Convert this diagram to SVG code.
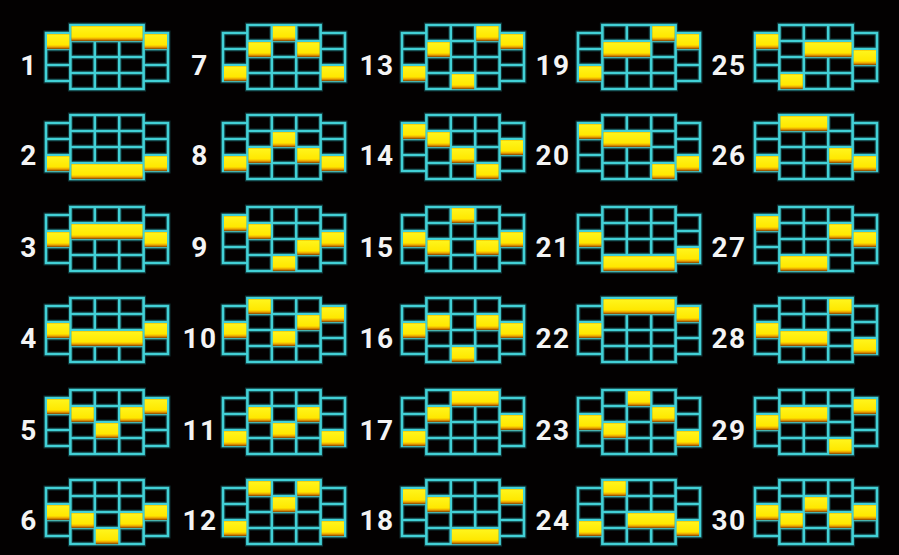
<svg xmlns="http://www.w3.org/2000/svg" xmlns:xlink="http://www.w3.org/1999/xlink" width="899" height="555" viewBox="0 0 899 555">
<style>
.lbl{font-family:Roboto,"Liberation Sans",sans-serif;font-weight:bold;font-size:28px;fill:#f4f4f4;text-anchor:middle;letter-spacing:1.5px}
.y{fill:url(#yg)}
.gl{fill:none;stroke:#42d0d6;stroke-width:2.6}
.gg{fill:none;stroke:#2aa8b0;stroke-width:5;opacity:0.3}
</style>
<defs>
<linearGradient id="yg" x1="0" y1="0" x2="0" y2="1">
<stop offset="0" stop-color="#f2c000"/>
<stop offset="0.08" stop-color="#fff41a"/>
<stop offset="0.72" stop-color="#ffe800"/>
<stop offset="0.86" stop-color="#eba000"/>
<stop offset="1" stop-color="#7a3800"/>
</linearGradient>
<path id="gp" d="M0,8H24.4V56H0Z M97.6,8H122V56H97.6Z M24.4,0H97.6V64H24.4Z M0,24H24.4 M0,40H24.4 M97.6,24H122 M97.6,40H122 M24.4,16H97.6 M24.4,32H97.6 M24.4,48H97.6 M48.8,0V64 M73.2,0V64"/>
<g id="grid"><use href="#gp" class="gg"/><use href="#gp" class="gl"/></g>
<rect id="s" class="y" width="22.4" height="15.2"/>
<rect id="d" class="y" width="46.8" height="15.2"/>
<rect id="t" class="y" width="71.2" height="15.2"/>
</defs>
<rect width="899" height="555" fill="#030101"/>

<g id="line-1" transform="translate(46,25)"><use href="#grid"/><use href="#s" x="1" y="9"/><use href="#t" x="25.4" y="1"/><use href="#s" x="98.6" y="9"/><text class="lbl" x="-17" y="50">1</text></g>
<g id="line-2" transform="translate(46,115)"><use href="#grid"/><use href="#s" x="1" y="41"/><use href="#t" x="25.4" y="49"/><use href="#s" x="98.6" y="41"/><text class="lbl" x="-17" y="50">2</text></g>
<g id="line-3" transform="translate(46,207)"><use href="#grid"/><use href="#s" x="1" y="25"/><use href="#t" x="25.4" y="17"/><use href="#s" x="98.6" y="25"/><text class="lbl" x="-17" y="50">3</text></g>
<g id="line-4" transform="translate(46,298)"><use href="#grid"/><use href="#s" x="1" y="25"/><use href="#t" x="25.4" y="33"/><use href="#s" x="98.6" y="25"/><text class="lbl" x="-17" y="50">4</text></g>
<g id="line-5" transform="translate(46,390)"><use href="#grid"/><use href="#s" x="1" y="9"/><use href="#s" x="25.4" y="17"/><use href="#s" x="49.8" y="33"/><use href="#s" x="74.2" y="17"/><use href="#s" x="98.6" y="9"/><text class="lbl" x="-17" y="50">5</text></g>
<g id="line-6" transform="translate(46,480)"><use href="#grid"/><use href="#s" x="1" y="25"/><use href="#s" x="25.4" y="33"/><use href="#s" x="49.8" y="49"/><use href="#s" x="74.2" y="33"/><use href="#s" x="98.6" y="25"/><text class="lbl" x="-17" y="50">6</text></g>

<g id="line-7" transform="translate(223,25)"><use href="#grid"/><use href="#s" x="1" y="41"/><use href="#s" x="25.4" y="17"/><use href="#s" x="49.8" y="1"/><use href="#s" x="74.2" y="17"/><use href="#s" x="98.6" y="41"/><text class="lbl" x="-23" y="50">7</text></g>
<g id="line-8" transform="translate(223,115)"><use href="#grid"/><use href="#s" x="1" y="41"/><use href="#s" x="25.4" y="33"/><use href="#s" x="49.8" y="17"/><use href="#s" x="74.2" y="33"/><use href="#s" x="98.6" y="41"/><text class="lbl" x="-23" y="50">8</text></g>
<g id="line-9" transform="translate(223,207)"><use href="#grid"/><use href="#s" x="1" y="9"/><use href="#s" x="25.4" y="17"/><use href="#s" x="49.8" y="49"/><use href="#s" x="74.2" y="33"/><use href="#s" x="98.6" y="25"/><text class="lbl" x="-23" y="50">9</text></g>
<g id="line-10" transform="translate(223,298)"><use href="#grid"/><use href="#s" x="1" y="25"/><use href="#s" x="25.4" y="1"/><use href="#s" x="49.8" y="33"/><use href="#s" x="74.2" y="17"/><use href="#s" x="98.6" y="9"/><text class="lbl" x="-23" y="50">10</text></g>
<g id="line-11" transform="translate(223,390)"><use href="#grid"/><use href="#s" x="1" y="41"/><use href="#s" x="25.4" y="17"/><use href="#s" x="49.8" y="33"/><use href="#s" x="74.2" y="17"/><use href="#s" x="98.6" y="41"/><text class="lbl" x="-23" y="50">11</text></g>
<g id="line-12" transform="translate(223,480)"><use href="#grid"/><use href="#s" x="1" y="41"/><use href="#s" x="25.4" y="1"/><use href="#s" x="49.8" y="17"/><use href="#s" x="74.2" y="1"/><use href="#s" x="98.6" y="41"/><text class="lbl" x="-23" y="50">12</text></g>

<g id="line-13" transform="translate(402,25)"><use href="#grid"/><use href="#s" x="1" y="41"/><use href="#s" x="25.4" y="17"/><use href="#s" x="49.8" y="49"/><use href="#s" x="74.2" y="1"/><use href="#s" x="98.6" y="9"/><text class="lbl" x="-25" y="50">13</text></g>
<g id="line-14" transform="translate(402,115)"><use href="#grid"/><use href="#s" x="1" y="9"/><use href="#s" x="25.4" y="17"/><use href="#s" x="49.8" y="33"/><use href="#s" x="74.2" y="49"/><use href="#s" x="98.6" y="25"/><text class="lbl" x="-25" y="50">14</text></g>
<g id="line-15" transform="translate(402,207)"><use href="#grid"/><use href="#s" x="1" y="25"/><use href="#s" x="25.4" y="33"/><use href="#s" x="49.8" y="1"/><use href="#s" x="74.2" y="33"/><use href="#s" x="98.6" y="25"/><text class="lbl" x="-25" y="50">15</text></g>
<g id="line-16" transform="translate(402,298)"><use href="#grid"/><use href="#s" x="1" y="25"/><use href="#s" x="25.4" y="17"/><use href="#s" x="49.8" y="49"/><use href="#s" x="74.2" y="17"/><use href="#s" x="98.6" y="25"/><text class="lbl" x="-25" y="50">16</text></g>
<g id="line-17" transform="translate(402,390)"><use href="#grid"/><use href="#s" x="1" y="41"/><use href="#s" x="25.4" y="17"/><use href="#d" x="49.8" y="1"/><use href="#s" x="98.6" y="25"/><text class="lbl" x="-25" y="50">17</text></g>
<g id="line-18" transform="translate(402,480)"><use href="#grid"/><use href="#s" x="1" y="9"/><use href="#s" x="25.4" y="17"/><use href="#d" x="49.8" y="49"/><use href="#s" x="98.6" y="9"/><text class="lbl" x="-25" y="50">18</text></g>

<g id="line-19" transform="translate(578,25)"><use href="#grid"/><use href="#s" x="1" y="41"/><use href="#d" x="25.4" y="17"/><use href="#s" x="74.2" y="1"/><use href="#s" x="98.6" y="9"/><text class="lbl" x="-25" y="50">19</text></g>
<g id="line-20" transform="translate(578,115)"><use href="#grid"/><use href="#s" x="1" y="9"/><use href="#d" x="25.4" y="17"/><use href="#s" x="74.2" y="49"/><use href="#s" x="98.6" y="41"/><text class="lbl" x="-25" y="50">20</text></g>
<g id="line-21" transform="translate(578,207)"><use href="#grid"/><use href="#s" x="1" y="25"/><use href="#t" x="25.4" y="49"/><use href="#s" x="98.6" y="41"/><text class="lbl" x="-25" y="50">21</text></g>
<g id="line-22" transform="translate(578,298)"><use href="#grid"/><use href="#s" x="1" y="25"/><use href="#t" x="25.4" y="1"/><use href="#s" x="98.6" y="9"/><text class="lbl" x="-25" y="50">22</text></g>
<g id="line-23" transform="translate(578,390)"><use href="#grid"/><use href="#s" x="1" y="25"/><use href="#s" x="25.4" y="33"/><use href="#s" x="49.8" y="1"/><use href="#s" x="74.2" y="17"/><use href="#s" x="98.6" y="41"/><text class="lbl" x="-25" y="50">23</text></g>
<g id="line-24" transform="translate(578,480)"><use href="#grid"/><use href="#s" x="1" y="41"/><use href="#s" x="25.4" y="1"/><use href="#d" x="49.8" y="33"/><use href="#s" x="98.6" y="41"/><text class="lbl" x="-25" y="50">24</text></g>

<g id="line-25" transform="translate(755,25)"><use href="#grid"/><use href="#s" x="1" y="9"/><use href="#s" x="25.4" y="49"/><use href="#d" x="49.8" y="17"/><use href="#s" x="98.6" y="25"/><text class="lbl" x="-26" y="50">25</text></g>
<g id="line-26" transform="translate(755,115)"><use href="#grid"/><use href="#s" x="1" y="41"/><use href="#d" x="25.4" y="1"/><use href="#s" x="74.2" y="33"/><use href="#s" x="98.6" y="41"/><text class="lbl" x="-26" y="50">26</text></g>
<g id="line-27" transform="translate(755,207)"><use href="#grid"/><use href="#s" x="1" y="9"/><use href="#d" x="25.4" y="49"/><use href="#s" x="74.2" y="17"/><use href="#s" x="98.6" y="25"/><text class="lbl" x="-26" y="50">27</text></g>
<g id="line-28" transform="translate(755,298)"><use href="#grid"/><use href="#s" x="1" y="25"/><use href="#d" x="25.4" y="33"/><use href="#s" x="74.2" y="1"/><use href="#s" x="98.6" y="41"/><text class="lbl" x="-26" y="50">28</text></g>
<g id="line-29" transform="translate(755,390)"><use href="#grid"/><use href="#s" x="1" y="25"/><use href="#d" x="25.4" y="17"/><use href="#s" x="74.2" y="49"/><use href="#s" x="98.6" y="9"/><text class="lbl" x="-26" y="50">29</text></g>
<g id="line-30" transform="translate(755,480)"><use href="#grid"/><use href="#s" x="1" y="25"/><use href="#s" x="25.4" y="33"/><use href="#s" x="49.8" y="17"/><use href="#s" x="74.2" y="33"/><use href="#s" x="98.6" y="25"/><text class="lbl" x="-26" y="50">30</text></g>
</svg>
